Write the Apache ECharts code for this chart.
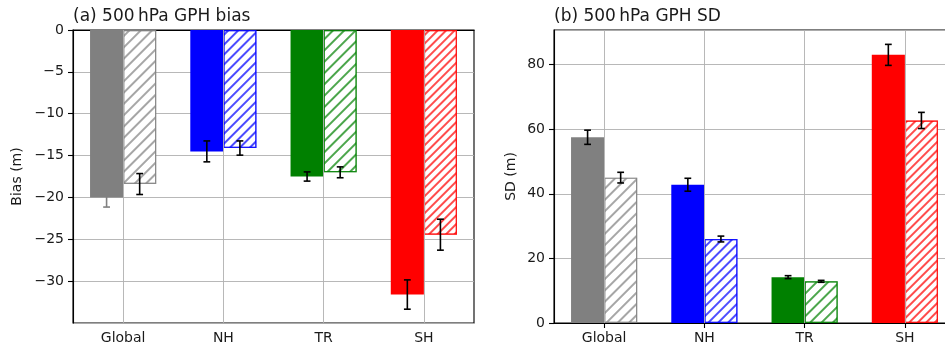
<!DOCTYPE html>
<html>
<head>
<meta charset="utf-8">
<script src="https://cdn.jsdelivr.net/npm/echarts@6/dist/echarts.min.js"></script>
<style>
html,body{margin:0;padding:0;background:#fff;overflow:hidden;width:945px;height:350px;}
#chart{width:960px;height:350px;}
</style>
</head>
<body>
<div id="chart"></div>
<script>
// ---- data ----
const categories = ['Global', 'NH', 'TR', 'SH'];
const biasSolid = [-20.0, -14.5, -17.5, -31.6];
const biasSolidErr = [1.15, 1.25, 0.55, 1.75];
const biasHatched = [-18.4, -14.1, -17.0, -24.45];
const biasHatchedErr = [1.25, 0.85, 0.65, 1.85];
const sdSolid = [57.5, 42.8, 14.2, 83.0];
const sdSolidErr = [2.2, 2.0, 0.45, 3.25];
const sdHatched = [45.0, 26.0, 12.9, 62.7];
const sdHatchedErr = [1.65, 0.9, 0.3, 2.5];
const titleA = '(a) 500\u2009hPa GPH bias';
const titleB = '(b) 500\u2009hPa GPH SD';
const yNameA = 'Bias (m)';
const yNameB = 'SD (m)';

// ---- styles ----
const FONT = 'DejaVu Sans';
const TXT = '#1a1a1a';
const solidColors = ['#808080', '#0000ff', '#008000', '#ff0000'];
const hatchColors = ['rgba(128,128,128,0.7)', 'rgba(0,0,255,0.7)', 'rgba(0,128,0,0.7)', 'rgba(255,0,0,0.7)'];
const hatchGap = [5.6, 5.0, 5.2, 3.8];
const GRIDC = '#b0b0b0';

function solidData(vals) {
  return vals.map((v, i) => ({ value: v, itemStyle: { color: solidColors[i] } }));
}
function hatchData(vals) {
  return vals.map((v, i) => ({
    value: v,
    itemStyle: {
      color: '#ffffff',
      borderColor: hatchColors[i],
      borderWidth: 1.2,
      decal: {
        symbol: 'rect', symbolSize: 1, color: hatchColors[i], backgroundColor: 'rgba(0,0,0,0)',
        dashArrayX: [1, 0], dashArrayY: [1.1, hatchGap[i]], rotation: -Math.PI / 4
      }
    }
  }));
}
function errSeries(xi, yi, vals, errs, offset, colors) {
  return {
    type: 'custom', xAxisIndex: xi, yAxisIndex: yi, z: 5, silent: true,
    data: vals.map((v, i) => [i, v, errs[i]]),
    renderItem: function (params, api) {
      const idx = api.value(0), v = api.value(1), e = api.value(2);
      const band = api.size([1, 0])[0];
      const c1 = api.coord([idx, v + e]);
      const c2 = api.coord([idx, v - e]);
      const x = c1[0] + offset * band;
      const cap = 3.4;
      const col = colors[idx];
      const st = { stroke: col, lineWidth: 1.6 };
      return {
        type: 'group',
        children: [
          { type: 'line', shape: { x1: x, y1: c1[1], x2: x, y2: c2[1] }, style: st },
          { type: 'line', shape: { x1: x - cap, y1: c1[1], x2: x + cap, y2: c1[1] }, style: st },
          { type: 'line', shape: { x1: x - cap, y1: c2[1], x2: x + cap, y2: c2[1] }, style: st }
        ]
      };
    }
  };
}
function vGrid(xi, yi) {
  return {
    type: 'line', xAxisIndex: xi, yAxisIndex: yi, data: [], z: 1, silent: true,
    markLine: {
      silent: true, symbol: 'none', label: { show: false },
      lineStyle: { color: GRIDC, width: 0.9, type: 'solid' },
      data: categories.map(c => ({ xAxis: c }))
    }
  };
}
const minusFmt = v => (v < 0 ? '\u2212' + Math.abs(v) : String(v));

function xAxisCfg(gi) {
  return {
    type: 'category', gridIndex: gi, data: categories,
    axisLine: { show: true, lineStyle: { color: '#000', width: 1.1 } },
    axisTick: { show: true, alignWithLabel: true, length: 5, lineStyle: { color: '#000', width: 1.1 } },
    axisLabel: { fontFamily: FONT, fontSize: 14, color: TXT, margin: 8 },
    splitLine: { show: false }
  };
}
function yAxisCfg(gi, min, max, interval, name, gap) {
  return {
    type: 'value', gridIndex: gi, min: min, max: max, interval: interval,
    name: name, nameLocation: 'middle', nameGap: gap, nameRotate: 90,
    nameTextStyle: { fontFamily: FONT, fontSize: 14, color: TXT },
    axisLine: { show: true, lineStyle: { color: '#000', width: 1.1 } },
    axisTick: { show: true, length: 5, lineStyle: { color: '#000', width: 1.1 } },
    axisLabel: { fontFamily: FONT, fontSize: 14, color: TXT, margin: 9, formatter: minusFmt,
                 showMinLabel: min === 0, showMaxLabel: max === 0 },
    splitLine: { show: true, lineStyle: { color: GRIDC, width: 0.9 } }
  };
}

const chart = echarts.init(document.getElementById('chart'), null, { renderer: 'canvas' });
const errColorsA = ['#808080', '#000', '#000', '#000'];
const errColorsBlack = ['#000', '#000', '#000', '#000'];
chart.setOption({
  animation: false,
  backgroundColor: '#fff',
  title: [
    { text: titleA, left: 73, top: 8, padding: 0, textStyle: { fontFamily: FONT, fontSize: 17, fontWeight: 'normal', color: TXT } },
    { text: titleB, left: 554, top: 8, padding: 0, textStyle: { fontFamily: FONT, fontSize: 17, fontWeight: 'normal', color: TXT } }
  ],
  grid: [
    { left: 73, width: 401, top: 30, bottom: 27, show: true, borderColor: '#000', borderWidth: 1.1, backgroundColor: 'transparent' },
    { left: 554, width: 401, top: 30, bottom: 27, show: true, borderColor: '#000', borderWidth: 1.1, backgroundColor: 'transparent' }
  ],
  xAxis: [xAxisCfg(0), xAxisCfg(1)],
  yAxis: [
    yAxisCfg(0, -35, 0, 5, yNameA, 49),
    yAxisCfg(1, 0, 90.7, 20, yNameB, 36)
  ],
  series: [
    vGrid(0, 0),
    { type: 'bar', xAxisIndex: 0, yAxisIndex: 0, data: solidData(biasSolid), barWidth: '33%', barGap: '0%', z: 2 },
    { type: 'bar', xAxisIndex: 0, yAxisIndex: 0, data: hatchData(biasHatched), barWidth: '33%', barGap: '0%', z: 2 },
    errSeries(0, 0, biasSolid, biasSolidErr, -0.165, errColorsA),
    errSeries(0, 0, biasHatched, biasHatchedErr, 0.165, errColorsBlack),
    vGrid(1, 1),
    { type: 'bar', xAxisIndex: 1, yAxisIndex: 1, data: solidData(sdSolid), barWidth: '33%', barGap: '0%', z: 2 },
    { type: 'bar', xAxisIndex: 1, yAxisIndex: 1, data: hatchData(sdHatched), barWidth: '33%', barGap: '0%', z: 2 },
    errSeries(1, 1, sdSolid, sdSolidErr, -0.165, errColorsBlack),
    errSeries(1, 1, sdHatched, sdHatchedErr, 0.165, errColorsBlack)
  ]
});
</script>
</body>
</html>
